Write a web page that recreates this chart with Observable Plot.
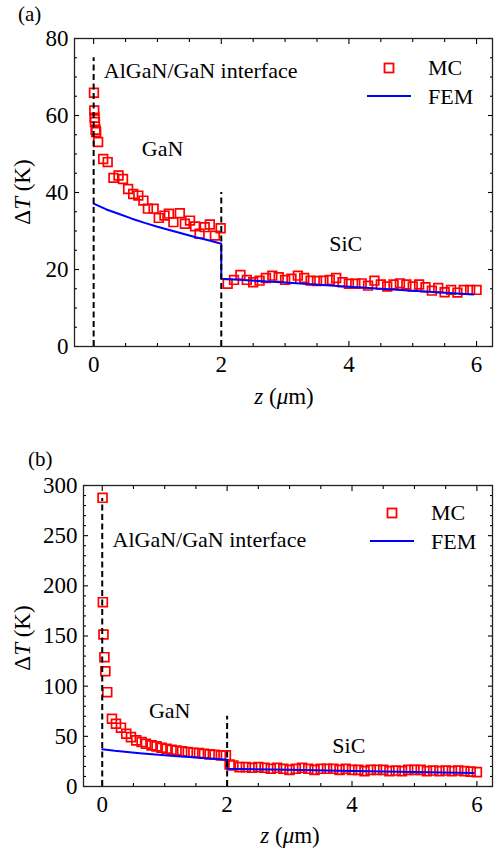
<!DOCTYPE html>
<html><head><meta charset="utf-8">
<script src="https://cdn.jsdelivr.net/npm/d3@7"></script>
<script src="https://cdn.jsdelivr.net/npm/@observablehq/plot@0.6"></script>
<style>
body{margin:0;background:#fff}
#wrap{position:relative;width:495px;}
.tag{position:absolute;font-family:'Liberation Serif',serif;font-size:21px;line-height:21px;color:#000;}
</style>
</head><body>
<div id="wrap">
<div id="pa"></div>
<div id="pb"></div>
<div class="tag" style="left:18px;top:4px">(a)</div>
<div class="tag" style="left:28px;top:449px">(b)</div>
</div>
<script>
// ---------- data: panel (a) ----------
const zMC_A = [0.005,0.01,0.015,0.02,0.03,0.04,0.07,0.15,0.22,0.31,0.39,0.46,0.54,0.62,0.70,0.78,0.85,0.94,1.02,1.11,1.18,1.25,1.35,1.43,1.51,1.59,1.66,1.74,1.82,1.90,1.99,
  2.1,2.2,2.3,2.4,2.5,2.6,2.7,2.8,2.9,3.0,3.1,3.2,3.3,3.4,3.5,3.6,3.7,3.8,3.9,4.0,4.1,4.2,4.3,4.4,4.5,4.6,4.7,4.8,4.9,5.0,5.1,5.2,5.3,5.4,5.5,5.6,5.7,5.8,5.9,6.0];
const tMC_A = [65.9,61.3,59.4,58.3,56.3,55.7,53.1,48.7,47.9,43.8,44.4,43.5,40.9,39.6,39.2,37.9,35.8,35.8,33.4,34.0,34.5,32.3,34.6,31.9,32.7,31.2,29.3,31.0,31.7,28.8,30.7,
  16.3,17.3,18.6,17.3,16.7,17.1,17.8,18.4,18.0,17.3,17.6,18.4,17.8,17.1,17.0,17.1,17.3,17.8,16.7,16.3,16.3,16.4,15.8,17.1,16.1,15.6,16.1,16.4,16.1,15.6,16.1,15.4,14.5,15.2,14.1,14.7,14.0,14.7,14.7,14.7];
// ---------- data: panel (b) ----------
const zMC_B = [0.005,0.01,0.02,0.035,0.05,0.08,0.155,0.22,0.30,0.385,0.46,0.545,0.63,0.70,0.79,0.87,0.95,1.03,1.11,1.19,1.28,1.37,1.46,1.55,1.63,1.72,1.80,1.90,1.98,2.04,
  2.1,2.2,2.3,2.4,2.5,2.6,2.7,2.8,2.9,3.0,3.1,3.2,3.3,3.4,3.5,3.6,3.7,3.8,3.9,4.0,4.1,4.2,4.3,4.4,4.5,4.6,4.7,4.8,4.9,5.0,5.1,5.2,5.3,5.4,5.5,5.6,5.7,5.8,5.9,6.0];
const tMC_B = [287.7,183.7,151.5,128.9,114.9,94.0,67.5,62.5,58.6,52.6,49.2,46.0,44.3,42.6,41.0,40.0,38.6,37.6,36.6,35.9,35.0,34.3,33.7,33.3,32.6,32.0,31.6,31.0,31.0,22.0,
  21.0,19.3,19.3,18.6,19.3,18.6,17.6,18.6,17.6,16.6,17.6,18.6,17.6,16.6,17.6,17.6,17.6,16.6,17.6,16.6,16.6,15.3,16.6,16.6,16.6,15.3,15.9,15.3,16.6,16.6,16.6,15.3,15.9,15.3,15.9,15.3,15.9,15.3,14.8,14.3];
// ---------- FEM (same in both panels) ----------
const zFEM = [0,0.2,0.4,0.6,0.8,1.0,1.2,1.4,1.6,1.8,2.0,2.0,3.0,4.0,5.0,5.95];
const tFEM = [37.1,35.6,34.4,33.2,32.1,31.1,30.2,29.3,28.4,27.6,26.7,17.6,16.6,15.5,14.5,13.5];
// ---------- dashed interface lines ----------
const dashZ = [0, 2];
const dashTopA = [75, 40];
const dashTopB = [287, 70];
// ---------- ticks ----------
const xDomain = [-0.3, 6.25];
const xMajor = [0, 2, 4, 6];
const xMinor = [0.5, 1, 1.5, 2.5, 3, 3.5, 4.5, 5, 5.5];
const yMajorA = [0, 20, 40, 60, 80];
const yMinorA = [5,10,15,25,30,35,45,50,55,65,70,75];
const yMajorB = [0, 50, 100, 150, 200, 250, 300];
const yMinorB = [10,20,30,40,60,70,80,90,110,120,130,140,160,170,180,190,210,220,230,240,260,270,280,290];
// ---------- annotations ----------
const ifaceA = [{z: 0.16, t: 71.7, s: "AlGaN/GaN interface"}];
const regionA = [{z: 1.08, t: 51.4, s: "GaN"}, {z: 3.95, t: 26.7, s: "SiC"}];
const ifaceB = [{z: 0.165, t: 246, s: "AlGaN/GaN interface"}];
const regionB = [{z: 1.08, t: 75.7, s: "GaN"}, {z: 3.95, t: 40.9, s: "SiC"}];

const FONT = "Liberation Serif";
const mc = (zs, ts) => zs.map((z, i) => ({z, t: ts[i]}));
const fem = zFEM.map((z, i) => ({z, t: tFEM[i]}));
const dashes = tops => dashZ.map((z, i) => ({z, t2: tops[i]}));

function makePanel(o) {
  const ax = (ticks, anchor, size, labels) => labels
    ? Plot.axisX(ticks, {anchor, tickSize: 0, tickPadding: 9})
    : Plot.axisX(ticks, {anchor, tickSize: size, tickFormat: () => "", strokeWidth: 1.1});
  const ay = (ticks, anchor, size, labels) => labels
    ? Plot.axisY(ticks, {anchor, tickSize: 0, tickPadding: 6})
    : Plot.axisY(ticks, {anchor, tickSize: size, tickFormat: () => "", strokeWidth: 1.1});
  const svg = Plot.plot({
    width: 495, height: o.height,
    marginLeft: o.ml, marginRight: 3, marginTop: o.mt, marginBottom: o.mb,
    style: {fontFamily: FONT, fontSize: "23px"},
    x: {domain: xDomain, label: null},
    y: {domain: o.yDomain, label: null},
    marks: [
      ax(xMajor, "bottom", 0, true),
      ax(xMajor, "bottom", -5), ax(xMinor, "bottom", -3),
      ax(xMajor, "top", -5), ax(xMinor, "top", -3),
      ay(o.yMajor, "left", 0, true),
      ay(o.yMajor, "left", -5), ay(o.yMinor, "left", -3),
      ay(o.yMajor, "right", -5), ay(o.yMinor, "right", -3),
      Plot.dot(o.mcData, {x: "z", y: "t", symbol: "square", r: o.r, stroke: "#ff0000", strokeWidth: 1.7, fill: "none"}),
      Plot.line(fem, {x: "z", y: "t", stroke: "#0000ff", strokeWidth: 2}),
      Plot.ruleX(o.dash, {x: "z", y1: 0, y2: "t2", stroke: "#000", strokeWidth: 2, strokeDasharray: "6,3.5"}),
      Plot.text(o.iface, {x: "z", y: "t", text: "s", textAnchor: "start", fontSize: 22, fill: "#000"}),
      Plot.text(o.region, {x: "z", y: "t", text: "s", textAnchor: "middle", fontSize: 22, fill: "#000"}),
      Plot.frame({stroke: "#222", strokeWidth: 1.3})
    ]
  });
  const s = d3.select(svg);
  const txt = (x, y, size, anchor) => s.append("text").attr("x", x).attr("y", y)
    .attr("font-family", FONT).attr("font-size", size).attr("text-anchor", anchor || "start").attr("fill", "#000");
  // x label: z (μm)
  const xl = txt(o.xl[0], o.xl[1], 23, "middle");
  xl.append("tspan").attr("font-style", "italic").text("z");
  xl.append("tspan").text(" (");
  xl.append("tspan").attr("font-style", "italic").text("μ");
  xl.append("tspan").text("m)");
  // y label: ΔT (K)
  const yl = txt(0, 0, 23, "middle").attr("transform", `translate(${o.yl[0]},${o.yl[1]}) rotate(-90)`);
  yl.append("tspan").text("Δ");
  yl.append("tspan").attr("font-style", "italic").text("T");
  yl.append("tspan").text(" (K)");
  // legend
  const [lx, ly] = o.leg;
  s.append("rect").attr("x", lx - 4.5).attr("y", ly - 4.5).attr("width", 9).attr("height", 9)
    .attr("fill", "none").attr("stroke", "#ff0000").attr("stroke-width", 1.8);
  txt(lx + 39, ly + 7, 22).text("MC");
  s.append("line").attr("x1", lx - 22).attr("x2", lx + 22).attr("y1", ly + 28).attr("y2", ly + 28)
    .attr("stroke", "#0000ff").attr("stroke-width", 2);
  txt(lx + 39, ly + 36, 22).text("FEM");
  document.getElementById(o.host).appendChild(svg);
}

makePanel({
  host: "pa", height: 420, ml: 74, mt: 38, mb: 74, yDomain: [0, 80], yMajor: yMajorA, yMinor: yMinorA,
  mcData: mc(zMC_A, tMC_A), r: 4.9, dash: dashes(dashTopA), iface: ifaceA, region: regionA,
  xl: [284, 404], yl: [30, 192], leg: [389, 68]
});
makePanel({
  host: "pb", height: 432, ml: 83, mt: 65, mb: 66, yDomain: [0, 300], yMajor: yMajorB, yMinor: yMinorB,
  mcData: mc(zMC_B, tMC_B), r: 5, dash: dashes(dashTopB), iface: ifaceB, region: regionB,
  xl: [290, 423], yl: [30, 218], leg: [392, 93]
});
</script></body></html>
